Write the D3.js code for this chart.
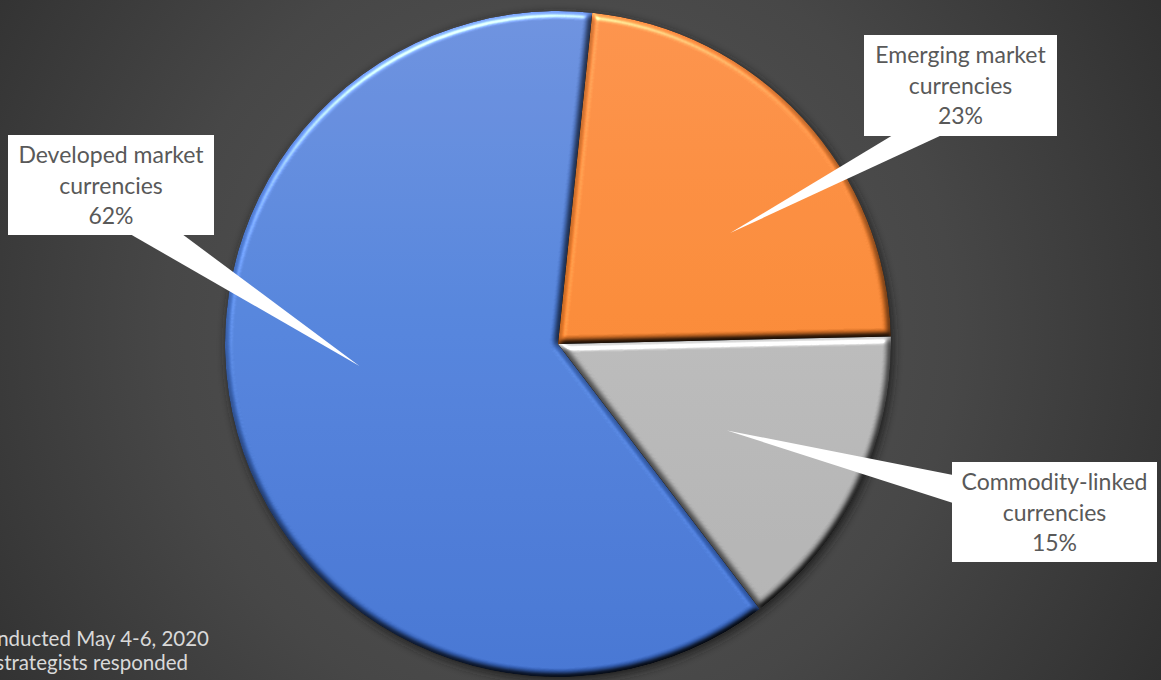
<!DOCTYPE html>
<html>
<head>
<meta charset="utf-8">
<script src="https://cdn.jsdelivr.net/npm/d3@7"></script>
<style>
  html, body { margin: 0; padding: 0; overflow: hidden; background: #3a3a3a; }
  svg { display: block; }
</style>
</head>
<body>
<svg id="chart" width="1161" height="680"></svg>
<script>
// ---- data ----
const categories = ["Developed market currencies", "Emerging market currencies", "Commodity-linked currencies"];
const labelLines = [["Developed market", "currencies"], ["Emerging market", "currencies"], ["Commodity-linked", "currencies"]];
const shares = [62, 23, 15];
const percentLabels = ["62%", "23%", "15%"];
const footnotes = ["conducted May 4-6, 2020", "strategists responded"];

// ---- styling / layout ----
const W = 1161, H = 680;
const cx = 558, cy = 344, R = 333;
const startDeg = -217.3;
const sliceColors = [
  { top: "#6389d9", mid: "#4a7bd6", bottom: "#3a6bcc" },
  { top: "#f78a40", mid: "#f5812c", bottom: "#ee7724" },
  { top: "#bdbdbd", mid: "#b4b4b4", bottom: "#a9a9a9" }
];
// callout boxes, wedge base on one side of the box, tip given in polar form
const callouts = [
  { x: 8,   y: 135, w: 206, h: 100, side: "bottom", b0: 130, b1: 182, tipDeg: -96.3, tipR: 0.60 },
  { x: 864, y: 35,  w: 193, h: 101, side: "bottom", b0: 893, b1: 942, tipDeg: 57.2,  tipR: 0.615 },
  { x: 952, y: 462, w: 205, h: 100, side: "left",   b0: 475, b1: 503, tipDeg: 117.1, tipR: 0.57 }
];

const svg = d3.select("#chart");
const defs = svg.append("defs");

// background
const bg = defs.append("radialGradient").attr("id", "bgGrad")
  .attr("gradientUnits", "userSpaceOnUse")
  .attr("cx", 560).attr("cy", 330).attr("r", 720);
bg.append("stop").attr("offset", "0").attr("stop-color", "#585858");
bg.append("stop").attr("offset", "0.55").attr("stop-color", "#474747");
bg.append("stop").attr("offset", "1").attr("stop-color", "#2e2e2e");
svg.append("rect").attr("width", W).attr("height", H).attr("fill", "url(#bgGrad)");

// slice gradients (lighter toward the top), in slice-local coordinates
sliceColors.forEach((c, i) => {
  const g = defs.append("linearGradient").attr("id", "slice" + i)
    .attr("gradientUnits", "userSpaceOnUse")
    .attr("x1", 0).attr("y1", -R).attr("x2", 0).attr("y2", R);
  g.append("stop").attr("offset", "0").attr("stop-color", c.top);
  g.append("stop").attr("offset", "0.45").attr("stop-color", c.mid);
  g.append("stop").attr("offset", "1").attr("stop-color", c.bottom);
});

// bevel: soft edge shading + highlight per slice
const bevel = defs.append("filter").attr("id", "bevel")
  .attr("color-interpolation-filters", "sRGB")
  .attr("x", "-5%").attr("y", "-5%").attr("width", "110%").attr("height", "110%");
bevel.append("feGaussianBlur").attr("in", "SourceAlpha").attr("stdDeviation", 3.2).attr("result", "blur");
const diff = bevel.append("feDiffuseLighting").attr("in", "blur").attr("surfaceScale", 5)
  .attr("diffuseConstant", 1).attr("lighting-color", "#ffffff").attr("result", "diff");
diff.append("feDistantLight").attr("azimuth", 250).attr("elevation", 55);
bevel.append("feComposite").attr("in", "SourceGraphic").attr("in2", "diff")
  .attr("operator", "arithmetic").attr("k1", 1.16).attr("k2", 0).attr("k3", 0).attr("k4", 0).attr("result", "shaded");
const spec = bevel.append("feSpecularLighting").attr("in", "blur").attr("surfaceScale", 5)
  .attr("specularConstant", 0.5).attr("specularExponent", 20).attr("lighting-color", "#ffffff").attr("result", "spec");
spec.append("feDistantLight").attr("azimuth", 250).attr("elevation", 40);
bevel.append("feComposite").attr("in", "spec").attr("in2", "SourceAlpha").attr("operator", "in").attr("result", "specIn");
bevel.append("feComposite").attr("in", "shaded").attr("in2", "specIn")
  .attr("operator", "arithmetic").attr("k1", 0).attr("k2", 1).attr("k3", 1).attr("k4", 0).attr("result", "lit");
bevel.append("feComposite").attr("in", "lit").attr("in2", "SourceAlpha").attr("operator", "in");

// outer shadow under the pie
const shadow = defs.append("filter").attr("id", "pieShadow")
  .attr("x", "-10%").attr("y", "-10%").attr("width", "120%").attr("height", "120%");
shadow.append("feGaussianBlur").attr("stdDeviation", 4);

const rad = d => d * Math.PI / 180;
const pie = d3.pie().sort(null).value(d => d)
  .startAngle(rad(startDeg)).endAngle(rad(startDeg + 360));
const arcs = pie(shares);
const arc = d3.arc().innerRadius(0).outerRadius(R);

const pieG = svg.append("g").attr("transform", `translate(${cx},${cy})`);
pieG.append("circle").attr("cx", 2).attr("cy", 3).attr("r", R + 1)
  .attr("fill", "#1e1e1e").attr("opacity", 0.8).attr("filter", "url(#pieShadow)");

pieG.selectAll("path.slice")
  .data(arcs)
  .join("path")
  .attr("class", "slice")
  .attr("d", arc)
  .attr("fill", (d, i) => `url(#slice${i})`)
  .attr("filter", "url(#bevel)");

// ---- callouts ----
const polar = (deg, r) => [cx + r * Math.sin(rad(deg)), cy - r * Math.cos(rad(deg))];
const labelG = svg.append("g");
callouts.forEach((c, i) => {
  const tip = polar(c.tipDeg, c.tipR * R);
  let tri;
  if (c.side === "bottom") tri = [[c.b0, c.y + c.h - 1], tip, [c.b1, c.y + c.h - 1]];
  else tri = [[c.x + 1, c.b0], tip, [c.x + 1, c.b1]];
  labelG.append("path")
    .attr("d", d3.line()(tri) + "Z")
    .attr("fill", "#ffffff");
  labelG.append("rect")
    .attr("x", c.x).attr("y", c.y).attr("width", c.w).attr("height", c.h)
    .attr("fill", "#ffffff");
  const lines = labelLines[i].concat([percentLabels[i]]);
  const t = labelG.append("text")
    .attr("x", c.x + c.w / 2)
    .attr("y", c.y + 28)
    .attr("text-anchor", "middle")
    .attr("font-family", "Lato, 'Open Sans', sans-serif")
    .attr("font-size", 23)
    .attr("fill", "#595959");
  lines.forEach((ln, k) => {
    t.append("tspan").attr("x", c.x + c.w / 2).attr("dy", k === 0 ? 0 : 30.5).text(ln);
  });
});

// ---- footnotes (left edge) ----
const foot = svg.append("g")
  .attr("font-family", "Lato, 'Open Sans', sans-serif")
  .attr("font-size", 20.5)
  .attr("fill", "#d9d9d9");
foot.append("text").attr("x", 209).attr("y", 646).attr("text-anchor", "end").text(footnotes[0]);
foot.append("text").attr("x", 188).attr("y", 670).attr("text-anchor", "end").text(footnotes[1]);
</script>
</body>
</html>
